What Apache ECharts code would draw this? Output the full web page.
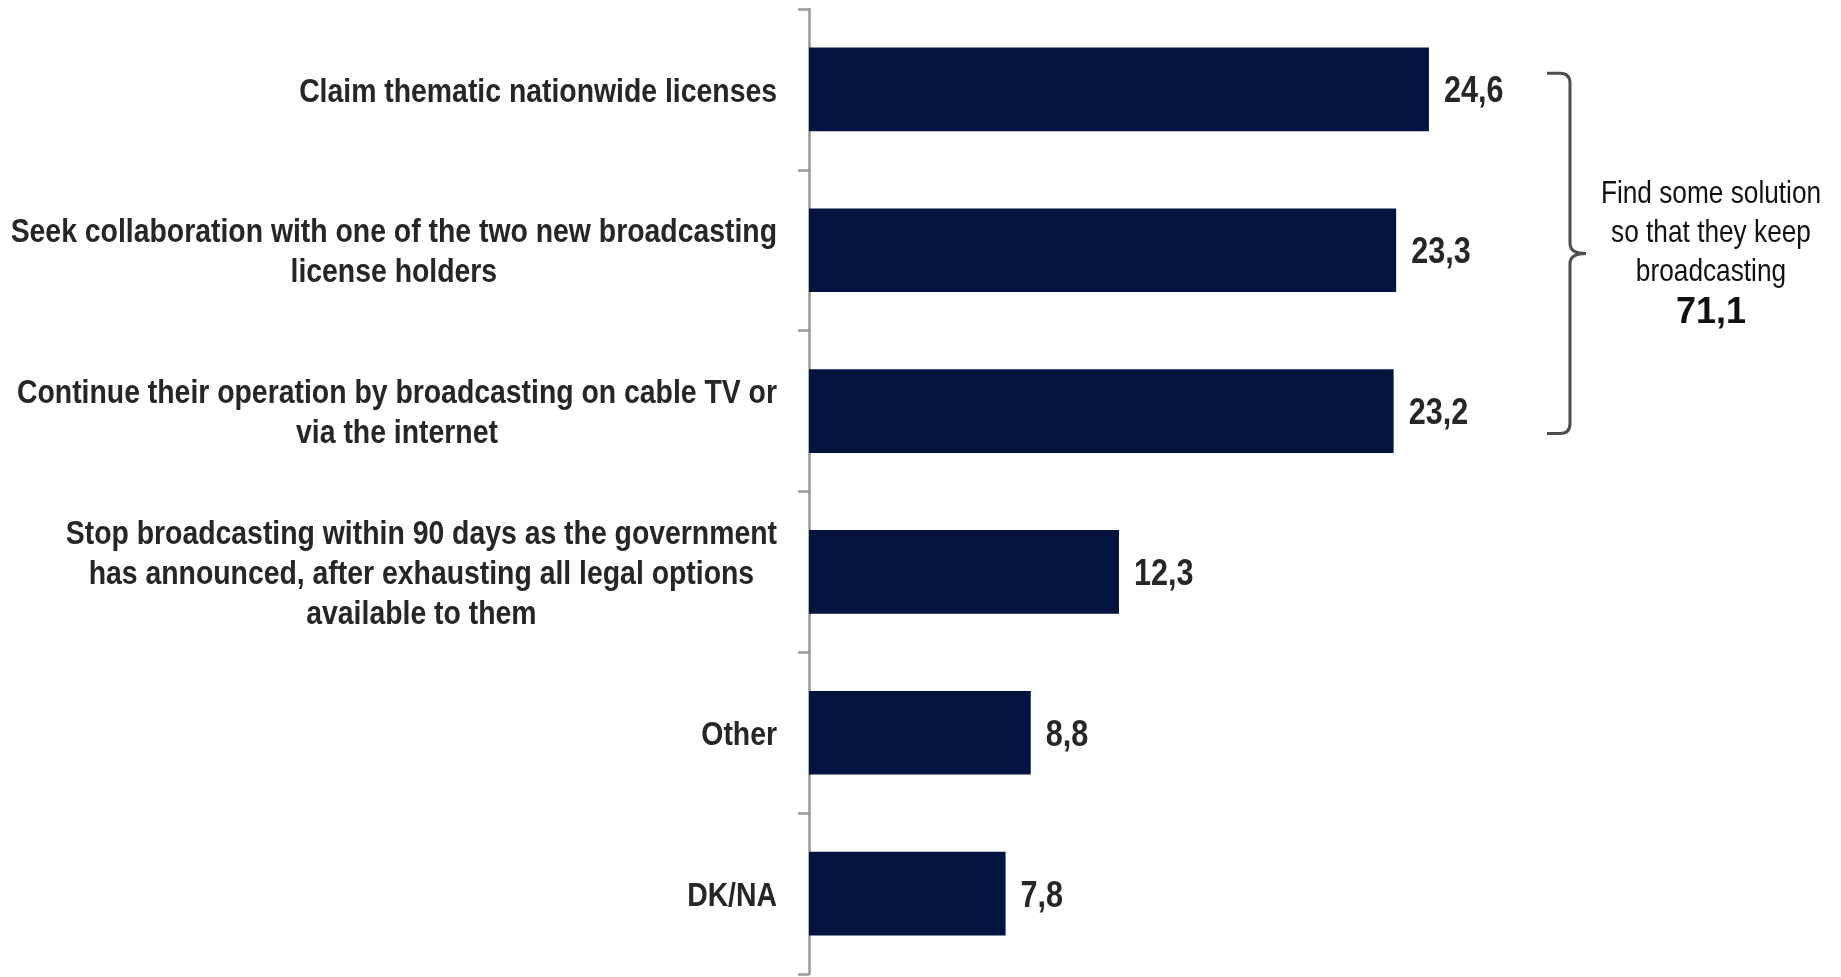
<!DOCTYPE html>
<html>
<head>
<meta charset="utf-8">
<script src="https://cdn.jsdelivr.net/npm/echarts@6/dist/echarts.min.js"></script>
<style>
html,body{margin:0;padding:0;background:#fff;}
#chart{width:1841px;height:977px;}
</style>
</head>
<body>
<div id="chart"></div>
<script>
var categories = [
  "Claim thematic nationwide licenses",
  "Seek collaboration with one of the two new broadcasting\nlicense holders",
  "Continue their operation by broadcasting on cable TV or\nvia the internet",
  "Stop broadcasting within 90 days as the government\nhas announced, after exhausting all legal options\navailable to them",
  "Other",
  "DK/NA"
];
var values = [24.6, 23.3, 23.2, 12.3, 8.8, 7.8];
var bracketText = ["Find some solution", "so that they keep", "broadcasting"];
var bracketTotal = "71,1";
var bracketRange = [0, 2]; // category indices grouped by the bracket

var FONT = "'Liberation Sans',Arial,sans-serif";
var TXT = "#262626";

function fmt(v) { return String(v).replace('.', ','); }

var labelData = values.map(function (v, i) { return [v, i]; });

var chart = echarts.init(document.getElementById('chart'), null, {renderer: 'canvas'});

var option = {
  animation: false,
  backgroundColor: '#ffffff',
  grid: {left: 809, top: 9, bottom: 3, right: 24, containLabel: false, outerBoundsMode: 'none'},
  xAxis: {type: 'value', min: 0, max: 40, show: false},
  yAxis: {
    type: 'category',
    inverse: true,
    data: categories,
    axisLine: {show: true, lineStyle: {color: '#999999', width: 2.5}},
    axisTick: {show: true, length: 11, lineStyle: {color: '#999999', width: 2.5}},
    axisLabel: {show: false},
    splitLine: {show: false}
  },
  series: [
    {
      type: 'bar',
      data: values,
      barCategoryGap: '48%',
      itemStyle: {color: '#011440'},
      z: 2
    },
    {
      // category labels and value labels, in a narrow face
      type: 'custom',
      coordinateSystem: 'cartesian2d',
      data: labelData,
      encode: {x: 0, y: 1},
      clip: false,
      z: 3,
      renderItem: function (params, api) {
        var v = api.value(0), idx = api.value(1);
        var end = api.coord([v, idx]);
        var start = api.coord([0, idx]);
        var lines = categories[idx].split('\n');
        return {
          type: 'group',
          children: [
            {
              type: 'text', x: start[0] - 32, y: start[1] + 3, scaleX: 0.86,
              style: {
                text: lines.map(function (l) { return '{c|' + l + '}'; }).join('\n'),
                align: 'right', verticalAlign: 'middle',
                rich: {c: {align: 'center', fontFamily: FONT, fontWeight: 'bold', fontSize: 33, lineHeight: 40, fill: TXT}}
              }
            },
            {
              type: 'text', x: end[0] + 15, y: end[1] + 3, scaleX: 0.85,
              style: {
                text: fmt(v), align: 'left', verticalAlign: 'middle',
                fontFamily: FONT, fontWeight: 'bold', fontSize: 36, fill: TXT
              }
            }
          ]
        };
      }
    },
    {
      // bracket annotation
      type: 'custom',
      coordinateSystem: 'cartesian2d',
      data: [[0, bracketRange[0], bracketRange[1]]],
      encode: {x: 0, y: 1},
      clip: false,
      z: 3,
      renderItem: function (params, api) {
        var yTop = api.coord([0, api.value(1)])[1];
        var yBot = api.coord([0, api.value(2)])[1];
        var catH = api.size([0, 1])[1];
        var y0 = yTop - catH * 0.1;
        var y1 = yBot + catH * 0.14;
        var ym = (y0 + y1) / 2;
        var bx0 = 1547, bx = 1570, bm = 1586, r = 10;
        var path = 'M' + bx0 + ' ' + y0 +
          ' L' + (bx - r) + ' ' + y0 +
          ' Q' + bx + ' ' + y0 + ' ' + bx + ' ' + (y0 + r) +
          ' L' + bx + ' ' + (ym - r) +
          ' Q' + bx + ' ' + ym + ' ' + bm + ' ' + ym +
          ' Q' + bx + ' ' + ym + ' ' + bx + ' ' + (ym + r) +
          ' L' + bx + ' ' + (y1 - r) +
          ' Q' + bx + ' ' + y1 + ' ' + (bx - r) + ' ' + y1 +
          ' L' + bx0 + ' ' + y1;
        return {
          type: 'group',
          children: [
            {type: 'path', shape: {pathData: path}, style: {fill: null, stroke: '#4d4d4d', lineWidth: 3}},
            {
              type: 'text', x: 1711, y: ym - 20, scaleX: 0.82,
              style: {
                text: bracketText.join('\n'), align: 'center', verticalAlign: 'middle',
                fontFamily: FONT, fontSize: 32, lineHeight: 39, fill: '#111111'
              }
            },
            {
              type: 'text', x: 1711, y: ym + 60,
              style: {
                text: bracketTotal, align: 'center', verticalAlign: 'middle',
                fontFamily: FONT, fontWeight: 'bold', fontSize: 36, fill: '#111111'
              }
            }
          ]
        };
      }
    }
  ]
};
chart.setOption(option);
</script>
</body>
</html>
